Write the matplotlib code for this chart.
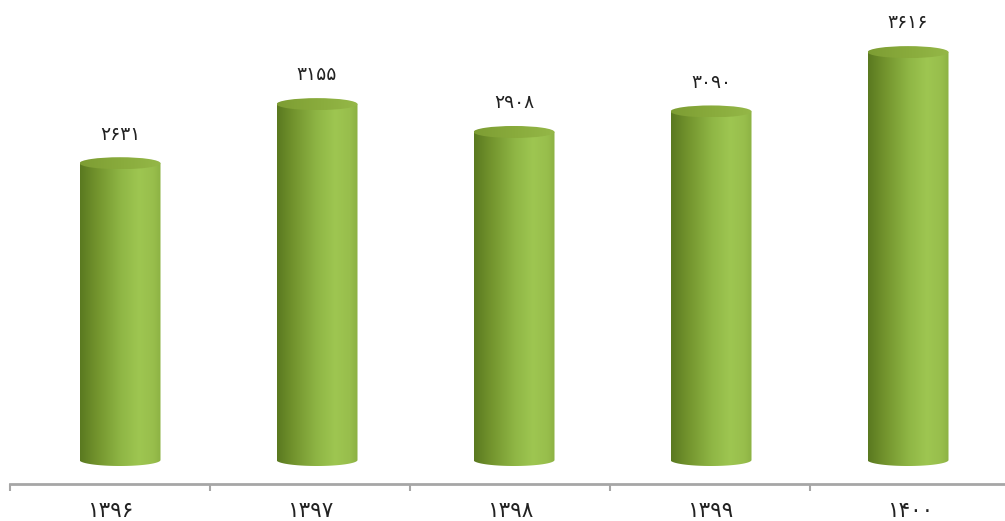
import numpy as np
import matplotlib
matplotlib.use("Agg")
import matplotlib.pyplot as plt
from matplotlib.path import Path
from matplotlib.patches import PathPatch, Ellipse
from matplotlib.colors import LinearSegmentedColormap

plt.rcParams['font.family'] = ['DejaVu Sans', 'Noto Sans']

categories = ["۱۳۹۶", "۱۳۹۷", "۱۳۹۸", "۱۳۹۹", "۱۴۰۰"]
values = [2631, 3155, 2908, 3090, 3616]
value_labels = ["۲۶۳۱", "۳۱۵۵", "۲۹۰۸", "۳۰۹۰", "۳۶۱۶"]

fig = plt.figure(figsize=(10.05, 5.21), dpi=100)
ax = fig.add_axes([10 / 1005, 37 / 521, 1000 / 1005, 484 / 521])
px_per_unit = 0.1128
ybot = -24 / px_per_unit
ax.set_xlim(-0.5, 4.5)
ax.set_ylim(ybot, ybot + 484 / px_per_unit)

body_cmap = LinearSegmentedColormap.from_list(
    "body", [(0.0, "#5a7920"), (0.2, "#72932d"), (0.5, "#8fb645"),
             (0.72, "#9ec651"), (0.9, "#98be4c"), (1.0, "#8bb042")])
top_cmap = LinearSegmentedColormap.from_list(
    "top", [(0.0, "#7d9d33"), (0.5, "#89ab3c"), (1.0, "#95b848")])

a = 0.2025      # half width in x units
b = 6 / px_per_unit  # ellipse half height in data units
grad = np.linspace(0, 1, 256).reshape(1, -1)

for i, v in enumerate(values):
    cx = i * 0.985 + 0.05
    th = np.linspace(np.pi, 2 * np.pi, 60)
    xs = list(cx + a * np.cos(th)) + [cx + a, cx - a, cx - a]
    ys = list(b * np.sin(th)) + [v, v, 0]
    verts = list(zip(xs, ys))
    codes = [Path.MOVETO] + [Path.LINETO] * (len(verts) - 2) + [Path.CLOSEPOLY]
    body = PathPatch(Path(verts, codes), facecolor='none', edgecolor='none')
    ax.add_patch(body)
    im = ax.imshow(grad, cmap=body_cmap, aspect='auto',
                   extent=(cx - a, cx + a, -b, v), zorder=2, interpolation='bilinear')
    im.set_clip_path(body)
    top = Ellipse((cx, v), 2 * a, 2 * b, facecolor='none', edgecolor='none')
    ax.add_patch(top)
    im2 = ax.imshow(grad, cmap=top_cmap, aspect='auto',
                    extent=(cx - a, cx + a, v - b, v + b), zorder=3, interpolation='bilinear')
    im2.set_clip_path(top)
    ax.annotate(value_labels[i], (cx, v), xytext=(0, 21), textcoords='offset points',
                ha='center', va='center', fontsize=13.5, color='#222222')

for s in ['top', 'left', 'right']:
    ax.spines[s].set_visible(False)
ax.spines['bottom'].set_color('#a6a6a6')
ax.spines['bottom'].set_linewidth(2)
ax.set_yticks([])
ax.set_xticks(np.arange(-0.5, 5, 1))
ax.set_xticklabels([])
ax.tick_params(axis='x', which='major', length=5, width=1.5, color='#a6a6a6', direction='out')
ax.set_xticks(np.arange(5), minor=True)
ax.set_xticklabels(categories, minor=True, fontsize=15.5, color='#222222')
ax.tick_params(axis='x', which='minor', length=0, pad=12)

fig.savefig("out.png", dpi=100)
